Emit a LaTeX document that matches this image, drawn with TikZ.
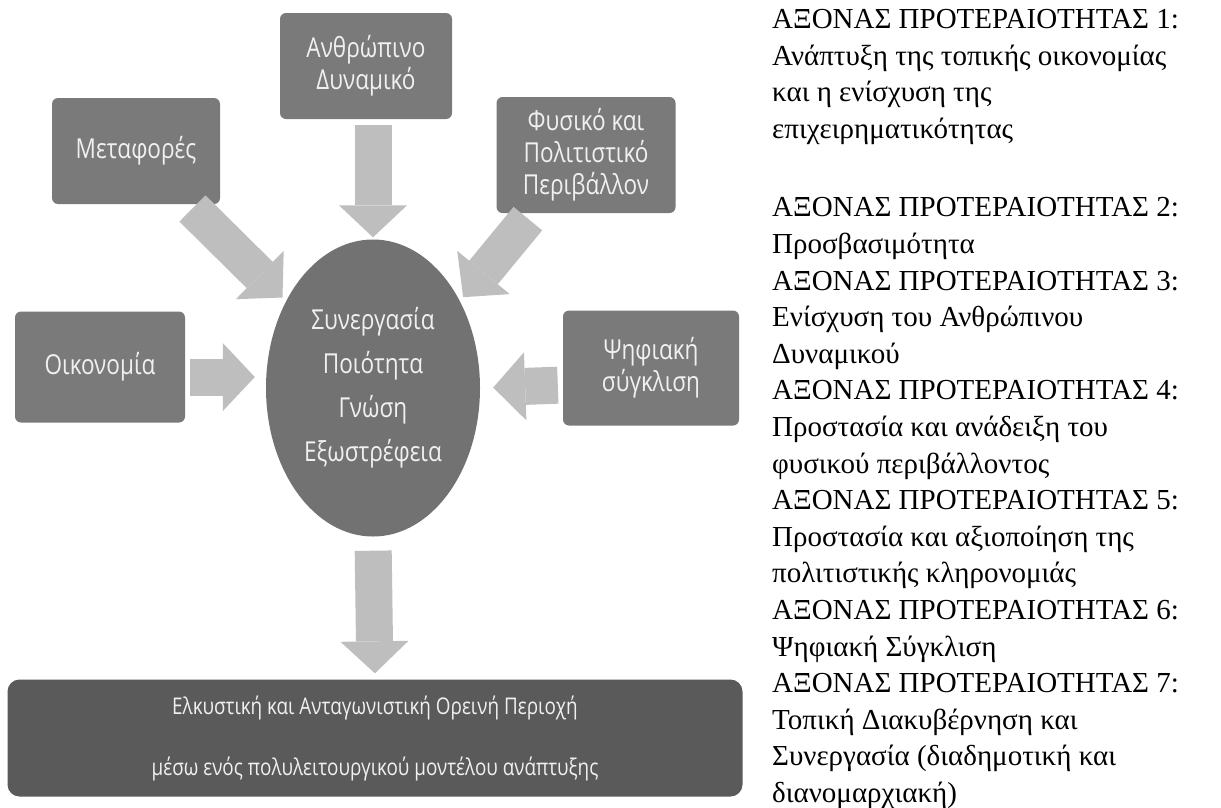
\documentclass[tikz,border=0pt]{standalone}
\usepackage{fontspec}
\setmainfont{Liberation Serif}
\newfontfamily\boxfont[FakeStretch=0.82]{Open Sans}
\usetikzlibrary{shapes.geometric,arrows.meta}

\definecolor{boxgray}{HTML}{7A7A7A}
\definecolor{coregray}{HTML}{727272}
\definecolor{goalgray}{HTML}{5A5A5A}
\definecolor{flowgray}{HTML}{BEBEBE}
\definecolor{boxtext}{HTML}{F0F0F0}

\tikzset{
  box/.style={rectangle, rounded corners=6pt, fill=boxgray, text=boxtext, align=center,
    inner sep=0pt, font=\boxfont\fontsize{27.5}{32}\selectfont},
  core/.style={ellipse, fill=coregray, text=boxtext, align=center, inner sep=0pt,
    minimum width=214pt, minimum height=297pt, font=\boxfont\fontsize{27.5}{44}\selectfont},
  goal/.style={rectangle, rounded corners=12pt, fill=goalgray, text=boxtext, align=center,
    inner sep=0pt, minimum width=735pt, minimum height=117pt, font=\boxfont\fontsize{23}{61}\selectfont},
  flow/.style={draw=flowgray, line width=37pt, -{Triangle[length=32pt,width=68pt,line width=0pt]}},
  axes/.style={align=left, inner sep=0pt, font=\fontsize{29}{36.6}\selectfont}
}

\begin{document}
\begin{tikzpicture}[x=1pt,y=-1pt]

\useasboundingbox[fill=white] (0,0) rectangle (1221,807);

% the five fields round the centre
\node[box, minimum width=172pt, minimum height=106pt] (human) at (366,66) {Ανθρώπινο\\Δυναμικό};
\node[box, minimum width=168pt, minimum height=106pt] (transport) at (136,151) {Μεταφορές};
\node[box, minimum width=179pt, minimum height=116pt] (nature) at (586,155) {Φυσικό και\\Πολιτιστικό\\Περιβάλλον};
\node[box, minimum width=170pt, minimum height=111pt] (economy) at (100,367) {Οικονομία};
\node[box, minimum width=176pt, minimum height=115pt] (digital) at (651,368) {Ψηφιακή\\σύγκλιση};

\node[core] (core) at (373,388) {Συνεργασία\\Ποιότητα\\Γνώση\\Εξωστρέφεια};

\node[goal] (goal) at (375,738) {Ελκυστική και Ανταγωνιστική Ορεινή Περιοχή\\μέσω ενός πολυλειτουργικού μοντέλου ανάπτυξης};

% arrows
\draw[flow, shorten <=6pt, shorten >=2pt] (human.south -| core.north) -- (core.north);
\draw[flow, shorten <=6pt, shorten >=5pt] ([xshift=-32pt]transport.south east) -- (core.135);
\draw[flow, shorten <=7pt, shorten >=5pt] ([xshift=36pt]nature.south west) -- (core.45);
\draw[flow, shorten <=5pt, shorten >=11pt] ([yshift=-10pt]economy.east) -- ([yshift=-10pt]economy.east -| core.west);
\draw[flow, shorten <=5pt, shorten >=13pt] ([yshift=-17pt]digital.west) -- (core.east);
\draw[flow, shorten <=14pt, shorten >=6pt] (core.south) -- (goal.north);

% the priority axes
\node[axes, anchor=north west] (axes) at (772,9) {%
ΑΞΟΝΑΣ ΠΡΟΤΕΡΑΙΟΤΗΤΑΣ 1:\\
Ανάπτυξη της τοπικής οικονομίας\\
και η ενίσχυση της\\
επιχειρηματικότητας\\[42pt]
ΑΞΟΝΑΣ ΠΡΟΤΕΡΑΙΟΤΗΤΑΣ 2:\\
Προσβασιμότητα\\
ΑΞΟΝΑΣ ΠΡΟΤΕΡΑΙΟΤΗΤΑΣ 3:\\
Ενίσχυση του Ανθρώπινου\\
Δυναμικού\\
ΑΞΟΝΑΣ ΠΡΟΤΕΡΑΙΟΤΗΤΑΣ 4:\\
Προστασία και ανάδειξη του\\
φυσικού περιβάλλοντος\\
ΑΞΟΝΑΣ ΠΡΟΤΕΡΑΙΟΤΗΤΑΣ 5:\\
Προστασία και αξιοποίηση της\\
πολιτιστικής κληρονομιάς\\
ΑΞΟΝΑΣ ΠΡΟΤΕΡΑΙΟΤΗΤΑΣ 6:\\
Ψηφιακή Σύγκλιση\\
ΑΞΟΝΑΣ ΠΡΟΤΕΡΑΙΟΤΗΤΑΣ 7:\\
Τοπική Διακυβέρνηση και\\
Συνεργασία (διαδημοτική και\\
διανομαρχιακή)};

\end{tikzpicture}
\end{document}
